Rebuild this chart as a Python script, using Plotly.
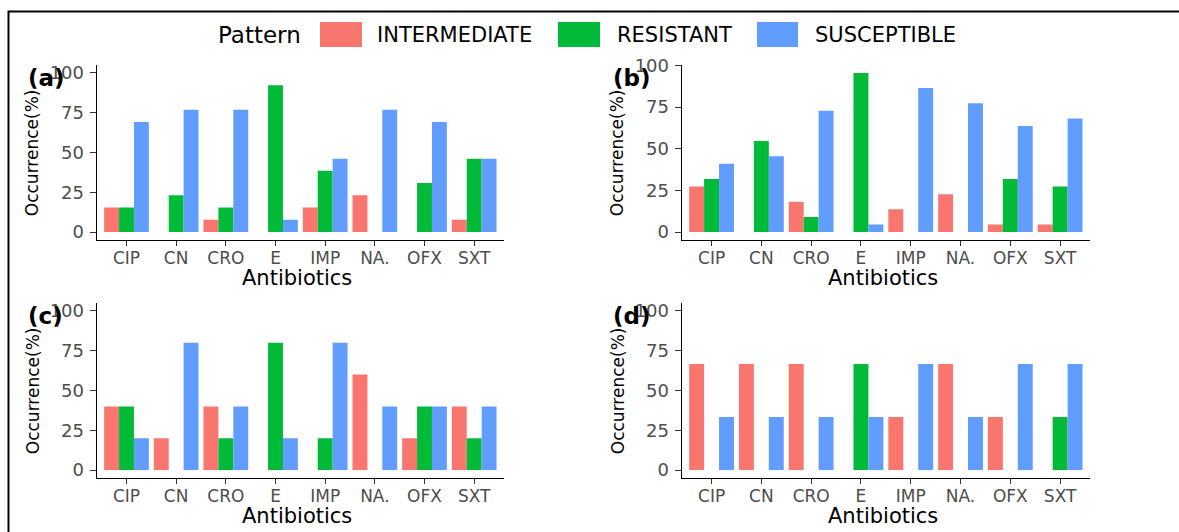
import plotly.graph_objects as go

W, H = 1179, 532

categories = ["CIP", "CN", "CRO", "E", "IMP", "NA.", "OFX", "SXT"]
patterns = ["INTERMEDIATE", "RESISTANT", "SUSCEPTIBLE"]
colors = ["#F8766D", "#00BA38", "#619CFF"]
yticks = [0, 25, 50, 75, 100]

a_intermediate = [15.38, 0, 7.69, 0, 15.38, 23.08, 0, 7.69]
a_resistant = [15.38, 23.08, 15.38, 92.31, 38.46, 0, 30.77, 46.15]
a_susceptible = [69.23, 76.92, 76.92, 7.69, 46.15, 76.92, 69.23, 46.15]

b_intermediate = [27.27, 0, 18.18, 0, 13.64, 22.73, 4.55, 4.55]
b_resistant = [31.82, 54.55, 9.09, 95.45, 0, 0, 31.82, 27.27]
b_susceptible = [40.91, 45.45, 72.73, 4.55, 86.36, 77.27, 63.64, 68.18]

c_intermediate = [40, 20, 40, 0, 0, 60, 20, 40]
c_resistant = [40, 0, 20, 80, 20, 0, 40, 20]
c_susceptible = [20, 80, 40, 20, 80, 40, 40, 40]

d_intermediate = [66.67, 66.67, 66.67, 0, 33.33, 66.67, 33.33, 0]
d_resistant = [0, 0, 0, 66.67, 0, 0, 0, 33.33]
d_susceptible = [33.33, 33.33, 33.33, 33.33, 66.67, 33.33, 66.67, 66.67]

panels = [
    ("(a)", [a_intermediate, a_resistant, a_susceptible]),
    ("(b)", [b_intermediate, b_resistant, b_susceptible]),
    ("(c)", [c_intermediate, c_resistant, c_susceptible]),
    ("(d)", [d_intermediate, d_resistant, d_susceptible]),
]


def px(x):
    return x / W


def py(y):
    return 1 - y / H


FONT = "DejaVu Sans"
TICK_COLOR = "#4D4D4D"

# panel geometry in pixels: (x0, x1, ytop, ybottom)
geom = [
    (96.7, 504.0, 65.0, 240.0),
    (681.7, 1090.0, 65.0, 240.0),
    (96.7, 504.0, 303.0, 478.0),
    (681.7, 1090.0, 303.0, 478.0),
]
fixed_limits = [True, False, True, True]

fig = go.Figure()
annotations = []
shapes = []

for i, ((label, series), (x0, x1, yt, yb), fixed) in enumerate(zip(panels, geom, fixed_limits)):
    n = "" if i == 0 else str(i + 1)
    for name, vals, col in zip(patterns, series, colors):
        fig.add_trace(go.Bar(
            x=categories, y=vals, name=name, marker_color=col,
            marker_line_width=0, showlegend=False,
            xaxis="x" + n, yaxis="y" + n,
        ))
    if fixed:
        ymax = 100
    else:
        ymax = max(max(v) for v in series)
    pad = 0.05 * ymax
    fig.layout["xaxis" + n] = dict(
        domain=[px(x0), px(x1)], anchor="y" + n, type="category",
        categoryorder="array", categoryarray=categories,
        range=[-0.6, len(categories) - 1 + 0.6],
        showline=True, linecolor="black", linewidth=1.2,
        ticks="outside", ticklen=5, tickcolor="#333333", tickwidth=1,
        ticklabelstandoff=-3,
        tickfont=dict(family=FONT, size=17, color=TICK_COLOR),
        showgrid=False, zeroline=False, automargin=False,
    )
    fig.layout["yaxis" + n] = dict(
        domain=[py(yb), py(yt)], anchor="x" + n,
        range=[-pad, ymax + pad], tickvals=yticks,
        showline=True, linecolor="black", linewidth=1.2,
        ticks="outside", ticklen=6, tickcolor="#333333", tickwidth=1,
        ticklabelstandoff=2,
        tickfont=dict(family=FONT, size=18, color=TICK_COLOR),
        showgrid=False, zeroline=False, automargin=False,
    )
    # panel label
    annotations.append(dict(
        text="<b>" + label + "</b>", x=px(x0 - 71), y=py(yt + 13),
        xref="paper", yref="paper", xanchor="left", yanchor="middle",
        showarrow=False, font=dict(family=FONT, size=23, color="black"),
    ))
    # y title
    annotations.append(dict(
        text="Occurrence(%)", x=px(x0 - 64), y=py((yt + yb) / 2 - 0),
        xref="paper", yref="paper", xanchor="center", yanchor="middle",
        textangle=-90, showarrow=False,
        font=dict(family=FONT, size=17, color="black"),
    ))
    # x title
    annotations.append(dict(
        text="Antibiotics", x=px((x0 + x1) / 2 - 3), y=py(yb + 38),
        xref="paper", yref="paper", xanchor="center", yanchor="middle",
        showarrow=False, font=dict(family=FONT, size=21, color="black"),
    ))

# manual legend
annotations.append(dict(
    text="Pattern", x=px(216), y=py(35), xref="paper", yref="paper",
    xanchor="left", yanchor="middle", showarrow=False,
    font=dict(family=FONT, size=23, color="black"),
))
key_boxes = [(320, 362), (558, 600), (757, 798)]
label_x = [375, 615, 813]
for (kx0, kx1), lx, name, col in zip(key_boxes, label_x, patterns, colors):
    shapes.append(dict(
        type="rect", xref="paper", yref="paper",
        x0=px(kx0), x1=px(kx1), y0=py(47), y1=py(22),
        fillcolor=col, line=dict(width=0),
    ))
    annotations.append(dict(
        text=name, x=px(lx), y=py(35), xref="paper", yref="paper",
        xanchor="left", yanchor="middle", showarrow=False,
        font=dict(family=FONT, size=21, color="black"),
    ))

# outer border
shapes.append(dict(
    type="rect", xref="paper", yref="paper",
    x0=px(8.5), x1=px(1190), y0=py(545), y1=py(11.5),
    line=dict(color="black", width=2), fillcolor="rgba(0,0,0,0)",
))

fig.update_layout(
    width=W, height=H,
    margin=dict(l=0, r=0, t=0, b=0),
    paper_bgcolor="white", plot_bgcolor="white",
    barmode="group", bargap=0.1, bargroupgap=0,
    annotations=annotations, shapes=shapes,
    showlegend=False,
    font=dict(family=FONT),
)

fig.write_html(
    "out.html",
    config={"displayModeBar": False},
    post_script="document.body.style.margin='0px';document.body.style.overflow='hidden';",
)
